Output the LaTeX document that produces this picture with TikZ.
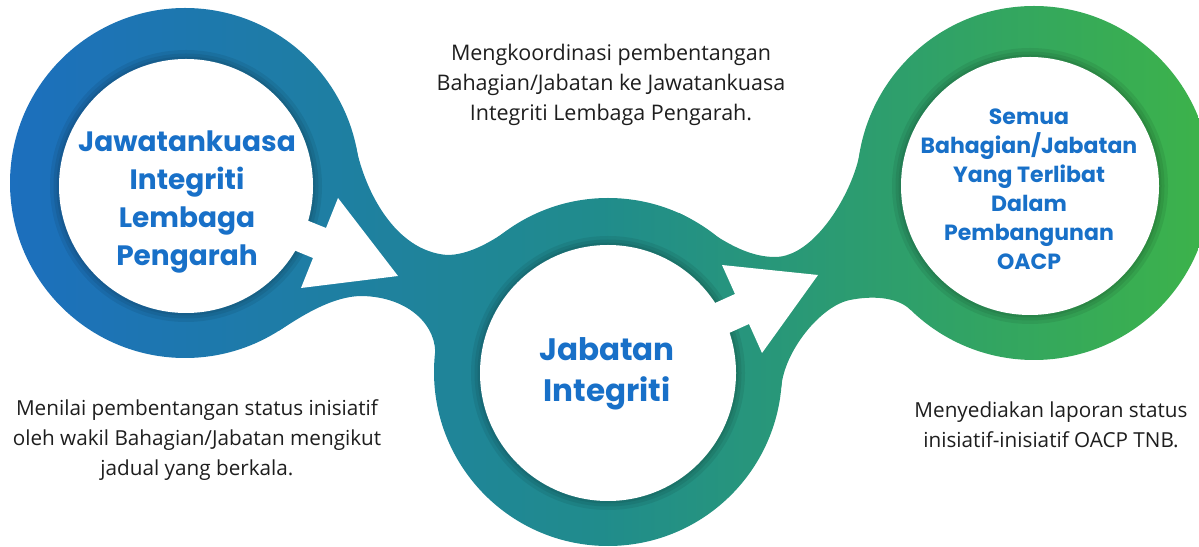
\documentclass[tikz,border=0pt]{standalone}
\usepackage{fontspec}
\setmainfont{Open Sans}
\newfontfamily\titlefont{Poppins}
\definecolor{ringblue}{RGB}{28,110,190}
\definecolor{ringteal}{RGB}{32,140,140}
\definecolor{ringgreen}{RGB}{60,178,75}
\definecolor{titleblue}{RGB}{24,112,200}
\definecolor{notegray}{RGB}{30,30,30}
\tikzset{
  ring/.style={left color=ringblue, right color=ringgreen, middle color=ringteal},
  hole/.style={fill=white},
  holeshadow/.style={draw=black, draw opacity=0.07},
  title/.style={text=titleblue, align=center},
  note/.style={text=notegray, align=center, font=\fontsize{20.7}{30}\selectfont},
}
\newcommand{\ringshade}{\shade[ring] (0,0) rectangle (1199,546);}
\begin{document}
\begin{tikzpicture}[x=1pt,y=1pt]
\useasboundingbox (0,0) rectangle (1199,546);
\clip (0,0) rectangle (1199,546);

% the three rings
\begin{scope}\clip (185,363) circle[radius=175]; \ringshade \end{scope}
\begin{scope}\clip (608,174) circle[radius=174]; \ringshade \end{scope}
\begin{scope}\clip (1034,363) circle[radius=177]; \ringshade \end{scope}

% necks between rings
\begin{scope}
  \clip (356,399) .. controls (365,355) and (395,295) .. (447,291)
    .. controls (467,291) and (488,302) .. (508,316)
    -- (560,200) -- (435,189)
    .. controls (438,219) and (410,249) .. (362,250)
    .. controls (330,250) and (296,226) .. (278.5,215)
    -- (250,330) -- cycle;
  \ringshade
\end{scope}
\begin{scope}
  \clip (679,333) .. controls (702,323) and (735,289) .. (775,289)
    .. controls (815,289) and (853,354) .. (860,394)
    -- (950,300) -- (910.4,236.3)
    .. controls (896,250) and (870,250) .. (850,246)
    .. controls (820,240) and (784,194) .. (781.3,158.8)
    -- (700,200) -- cycle;
  \ringshade
\end{scope}

% soft shadow round the holes
\foreach \c/\r in {{(186,360)}/127, {(608,173)}/128, {(1030,360)}/129}{
  \draw[holeshadow, line width=18pt] \c circle[radius=\r];
  \draw[holeshadow, line width=11pt] \c circle[radius=\r];
  \draw[holeshadow, line width=5pt] \c circle[radius=\r];
}
\fill[hole] (186,360) circle[radius=127];
\fill[hole] (608,173) circle[radius=128];
\fill[hole] (1030,360) circle[radius=129];

% white arrows
\fill[hole] (242,352) -- (326,318) -- (338,348) -- (398,270) -- (301,258) -- (313,288) -- (230,322) -- cycle;
\fill[hole] (653,215) -- (735,252) -- (722,281) -- (818,271) -- (762,193) -- (749,222) -- (667,185) -- cycle;

% titles
\node[title, font=\titlefont\bfseries\fontsize{28}{38}\selectfont] (lembaga) at (187,344)
  {Jawatankuasa\\Integriti\\Lembaga\\Pengarah};
\node[title, font=\titlefont\bfseries\fontsize{31}{41}\selectfont] (jabatan) at (607,172)
  {Jabatan\\Integriti};
\node[title, font=\titlefont\bfseries\fontsize{22}{29}\selectfont] (semua) at (1029,357)
  {Semua\\Bahagian/Jabatan\\Yang Terlibat\\Dalam\\Pembangunan\\OACP};

% notes
\node[note, font=\fontsize{21.5}{30}\selectfont] (koordinasi) at (611,461)
  {Mengkoordinasi pembentangan\\Bahagian/Jabatan ke Jawatankuasa\\Integriti Lembaga Pengarah.};
\node[note] (menilai) at (197,106)
  {Menilai pembentangan status inisiatif\\oleh wakil Bahagian/Jabatan mengikut\\jadual yang berkala.};
\node[note] (laporan) at (1051,121)
  {Menyediakan laporan status\\inisiatif-inisiatif OACP TNB.};
\end{tikzpicture}
\end{document}
